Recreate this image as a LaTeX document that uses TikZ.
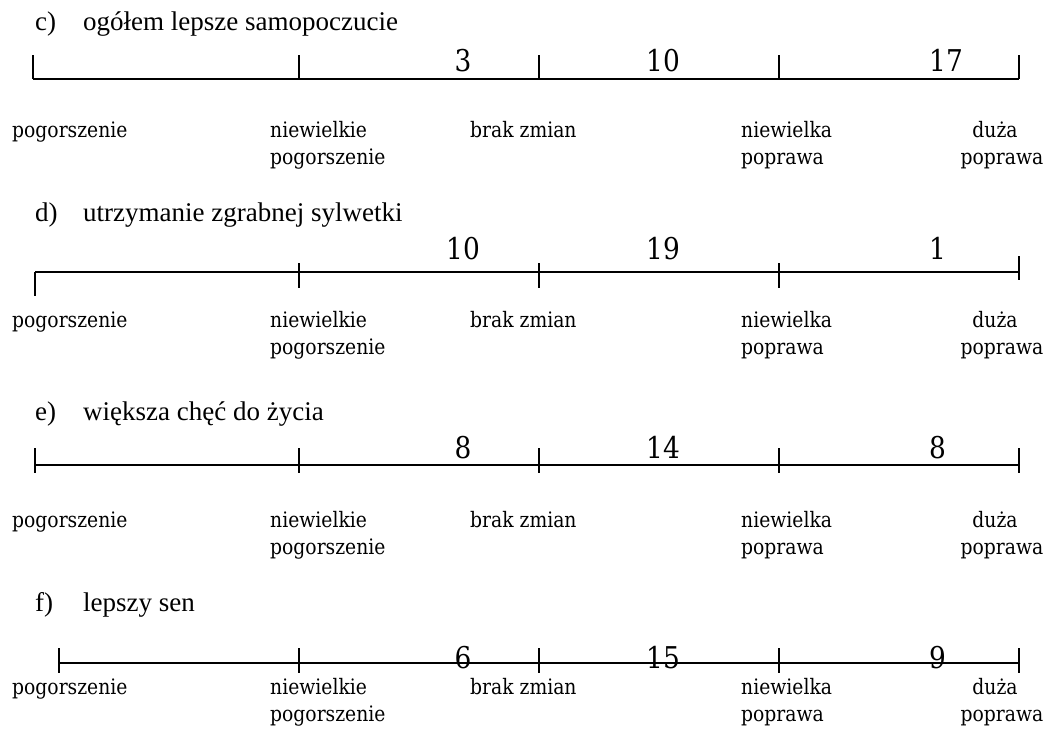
\documentclass[tikz,border=0pt]{standalone}
\usepackage{fontspec}
\usetikzlibrary{calc}
\setmainfont{Liberation Serif}
\newfontfamily\labfont[FakeStretch=0.88]{DejaVu Serif}
\begin{document}
\begin{tikzpicture}[x=1pt,y=-1pt,
  title/.style={anchor=base west,inner sep=0pt,font=\fontsize{27}{32}\selectfont},
  lab/.style={anchor=base west,inner sep=0pt,font=\labfont\fontsize{21.3}{28}\selectfont},
  labc/.style={anchor=base,inner sep=0pt,font=\labfont\fontsize{21.3}{28}\selectfont},
  num/.style={inner sep=0pt,font=\labfont\fontsize{30}{34}\selectfont},
  axis/.style={line width=1.4pt},
  tick/.style={line width=1.4pt}]
\useasboundingbox (0,0) rectangle (1051,729);

\foreach \blk/\ty/\ny/\tlab/\ta/\tb/\tc in {
  c/30/71/{ogółem lepsze samopoczucie}/3/10/17,
  d/221/259/{utrzymanie zgrabnej sylwetki}/10/19/1,
  e/420/458/{większa chęć do życia}/8/14/8,
  f/611/668/{lepszy sen}/6/15/9}{
  \node[title] (let\blk) at (35,\ty) {\blk)};
  \node[title] (tit\blk) at (83,\ty) {\tlab};
  \node[num,anchor=base] (na\blk) at (463,\ny) {\ta};
  \node[num,anchor=base west] (nb\blk) at (646,\ny) {\tb};
  \node[num,anchor=base west] (nc\blk) at (929,\ny) {\tc};
}

% block c
\coordinate (c0) at (33,79); \coordinate (c1) at (299,79); \coordinate (c2) at (539,79);
\coordinate (c3) at (779,79); \coordinate (c4) at (1019,79);
\draw[axis] (c0) -- (c4);
\foreach \k in {0,...,4} \draw[tick] (c\k) -- ++(0,-24);

% block d
\coordinate (d0) at (35,272); \coordinate (d1) at (299,272); \coordinate (d2) at (539,272);
\coordinate (d3) at (779,272); \coordinate (d4) at (1019,272);
\draw[line width=2pt] (d0) -- (d4);
\draw[tick] (d0) -- ++(0,24);
\foreach \k in {1,2,3} \draw[tick] ($(d\k)+(0,-9)$) -- ++(0,25);
\draw[tick] ($(d4)+(0,-16)$) -- ++(0,24);

% block e
\coordinate (e0) at (35,465); \coordinate (e1) at (299,465); \coordinate (e2) at (539,465);
\coordinate (e3) at (779,465); \coordinate (e4) at (1019,465);
\draw[axis] (e0) -- (e4);
\foreach \k in {0,...,4} \draw[tick] ($(e\k)+(0,-17)$) -- ++(0,25);

% block f
\coordinate (f0) at (59,663); \coordinate (f1) at (299,663); \coordinate (f2) at (539,663);
\coordinate (f3) at (779,663); \coordinate (f4) at (1019,663);
\draw[axis] (f0) -- (f4);
\foreach \k in {0,...,4} \draw[tick] ($(f\k)+(0,-15)$) -- ++(0,25);

% scale labels
\foreach \blk/\by in {c/137,d/327,e/527,f/694}{
  \node[lab] (p\blk) at (12,\by) {pogorszenie};
  \node[lab] (npa\blk) at (270,\by) {niewielkie};
  \node[lab] (npb\blk) at (270,\by+27) {pogorszenie};
  \node[lab] (bz\blk) at (470,\by) {brak zmian};
  \node[lab] (nwa\blk) at (741,\by) {niewielka};
  \node[lab] (nwb\blk) at (741,\by+27) {poprawa};
  \node[labc] (dpa\blk) at (995,\by) {duża};
  \node[labc] (dpb\blk) at (1002,\by+27) {poprawa};
}
\end{tikzpicture}
\end{document}
